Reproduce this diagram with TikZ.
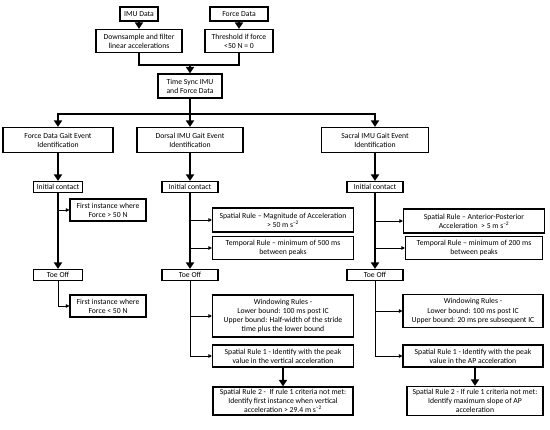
\documentclass[tikz,border=0pt]{standalone}
\usepackage{fontspec}
\setmainfont{Carlito}
\usetikzlibrary{positioning, arrows.meta}

\tikzset{
  box/.style={draw, line width=1.1pt, minimum width=#1, minimum height=11pt,
    align=center, inner sep=1pt, font=\fontsize{7.7}{9.1}\selectfont},
  box/.default=50pt,
  thickarr/.style={line width=2.4pt, -{Triangle[width=8pt,length=6.5pt]}},
  thickline/.style={line width=2.4pt},
  thinarr/.style={line width=0.8pt, -{Triangle[width=3.5pt,length=3.5pt]}},
}

\begin{document}
\begin{tikzpicture}
	[on grid, x=1pt, y=1pt]
   \useasboundingbox (0,0) rectangle (550,-430);
   % data sources
   \node[box=38pt, minimum height=14pt] (imu) at (139,-14) {IMU Data};
   \node[box=58pt, minimum height=14pt] (force) [right=100pt of imu] {Force Data};
   \node[box=86pt, minimum height=23pt] (down) [below=27pt of imu] {Downsample and filter\\linear accelerations};
   \node[box=68pt, minimum height=23pt] (thresh) [below=27pt of force] {Threshold if force\\<50 N = 0};
   \node[box=64pt, minimum height=24pt] (sync) [below right=45pt and 51pt of down] {Time Sync IMU\\and Force Data};
   \coordinate[above=21pt of sync] (j1);
   \coordinate[below=28pt of sync] (j2);
   % gait event identification
   \node[box=106pt, minimum height=25pt] (dgait) [below=54pt of sync] {Dorsal IMU Gait Event\\Identification};
   \node[box=110pt, minimum height=25pt] (fgait) [left=132pt of dgait] {Force Data Gait Event\\Identification};
   \node[box=107pt, minimum height=25pt] (sgait) [right=185pt of dgait] {Sacral IMU Gait Event\\Identification};
   \node[box=49pt] (fic) [below=47pt of fgait] {Initial contact};
   \node[box=56pt] (dic) [below=47pt of dgait] {Initial contact};
   \node[box=56pt] (sic) [below=47pt of sgait] {Initial contact};
   \node[box=49pt] (fto) [below=88pt of fic] {Toe Off};
   \node[box=56pt] (dto) [below=88pt of dic] {Toe Off};
   \node[box=56pt] (sto) [below=88pt of sic] {Toe Off};
   % force rules
   \node[box=76pt, minimum height=22pt] (fr1) [below right=23pt and 50pt of fic] {First instance where\\Force > 50 N};
   \node[box=76pt, minimum height=22pt] (fr2) [below right=31pt and 50pt of fto] {First instance where\\Force < 50 N};
   % dorsal rules
   \node[box=141pt, minimum height=24pt] (dspat) [below right=33pt and 93pt of dic] {Spatial Rule – Magnitude of Acceleration\\> 50 m s\textsuperscript{–2}};
   \node[box=141pt, minimum height=23pt] (dtemp) [below=28pt of dspat] {Temporal Rule – minimum of 500 ms\\between peaks};
   \node[box=141pt, minimum height=42pt] (dwin) [below right=41pt and 93pt of dto] {Windowing Rules -\\Lower bound: 100 ms post IC\\Upper bound: Half-width of the stride\\time plus the lower bound};
   \node[box=141pt, minimum height=22pt] (dsr1) [below=40pt of dwin] {Spatial Rule 1 - Identify with the peak\\value in the vertical acceleration};
   \node[box=140pt, minimum height=28pt] (dsr2) [below=45pt of dsr1] {Spatial Rule 2 -\ \ If rule 1 criteria not met:\\Identify first instance when vertical\\acceleration > 29.4 m s\textsuperscript{–2}};
   % sacral rules
   \node[box=141pt, minimum height=24pt] (sspat) [below right=34pt and 99pt of sic] {Spatial Rule – Anterior-Posterior\\Acceleration\ \ > 5 m s\textsuperscript{–2}};
   \node[box=137pt, minimum height=23pt] (stemp) [below=27pt of sspat] {Temporal Rule – minimum of 200 ms\\between peaks};
   \node[box=140pt, minimum height=33pt] (swin) [below right=36pt and 98pt of sto] {Windowing Rules -\\Lower bound: 100 ms post IC\\Upper bound: 20 ms pre subsequent IC};
   \node[box=140pt, minimum height=22pt] (ssr1) [below=45pt of swin] {Spatial Rule 1 - Identify with the peak\\value in the AP acceleration};
   \node[box=136pt, minimum height=29pt] (ssr2) [below right=45pt and 2pt of ssr1] {Spatial Rule 2 - If rule 1 criteria not met:\\Identify maximum slope of AP\\acceleration};

   % top part
   \draw[thickarr] (imu) -- (down);
   \draw[thickarr] (force) -- (thresh);
   \draw[thickline] (down) |- (j1) -| (thresh);
   \draw[thickarr] (j1) -- (sync);
   \draw[thickline] (sync) -- (j2);
   \draw[thickarr] (j2) -| (fgait);
   \draw[thickarr] (j2) -| (sgait);
   \draw[thickarr] (j2) -- (dgait);
   % columns
   \foreach \col in {f, d, s} {
     \draw[thickarr] (\col gait) -- (\col ic);
     \draw[thickarr] (\col ic) -- (\col to);
   }
   \draw[thinarr] (fic) |- (fr1);
   \draw[thinarr] (fto) |- (fr2);
   \draw[thinarr] (dic) |- (dspat);
   \draw[thinarr] (dic) |- (dtemp);
   \draw[thinarr] (dto) |- (dwin);
   \draw[thinarr] (dto) |- (dsr1);
   \draw[thickarr] (dsr1) -- (dsr2);
   \draw[thinarr] (sic) |- (sspat);
   \draw[thinarr] (sic) |- (stemp);
   \draw[thinarr] (sto) |- (swin);
   \draw[thinarr] (sto) |- (ssr1);
   \draw[thickarr] (ssr1.south -| ssr2) -- (ssr2);
\end{tikzpicture}
\end{document}
